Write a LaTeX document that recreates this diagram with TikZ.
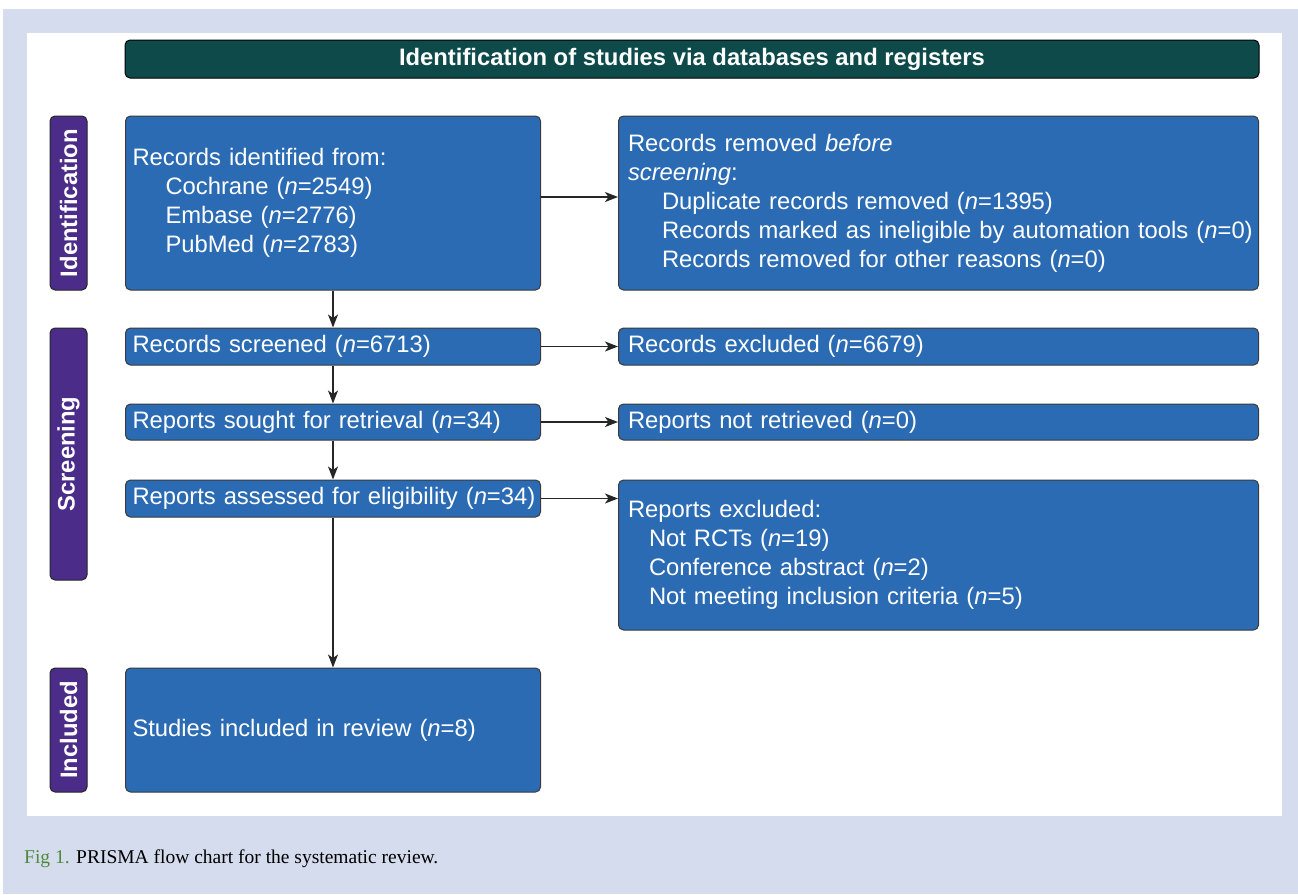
\documentclass[tikz,border=0pt]{standalone}
\usepackage{fontspec}
\setmainfont{Liberation Sans}
\newfontfamily\capfont{Liberation Serif}
\usetikzlibrary{arrows.meta,calc}
\definecolor{bgblue}{HTML}{D4DCEE}
\definecolor{boxblue}{HTML}{2B6BB4}
\definecolor{headteal}{HTML}{0E4A4A}
\definecolor{labpurple}{HTML}{4B2C88}
\definecolor{capgreen}{HTML}{4E8A3A}
\definecolor{edgegray}{HTML}{3A3A3A}
\begin{document}
\begin{tikzpicture}[x=1pt,y=-1pt,
  boxbase/.style={draw=edgegray, line width=1pt, fill=boxblue, text=white,
    rounded corners=5pt, align=left, inner ysep=0pt,
    font=\fontsize{23.8}{29}\selectfont},
  lbox/.style={boxbase, inner xsep=7pt, text width=401pt},
  rbox/.style={boxbase, inner xsep=9.5pt, text width=621pt},
  sidelab/.style={draw=black!85, line width=1pt, fill=labpurple, text=white,
    rounded corners=5pt, rotate=90, inner sep=0pt, minimum height=37pt,
    font=\bfseries\fontsize{23.8}{29}\selectfont},
  arr/.style={draw=black!85, line width=1.3pt,
    -{Stealth[length=13pt,width=10pt,inset=3.5pt]}}
]
\useasboundingbox (0,0) rectangle (1298,894);
\fill[white] (0,0) rectangle (1298,894);
\fill[bgblue] (3,9) rectangle (1298,894);
\fill[white] (27,33) rectangle (1282,816);

% header
\node[draw=black, line width=1pt, fill=headteal, text=white, rounded corners=5pt,
  minimum width=1134pt, minimum height=38pt, inner sep=0pt,
  font=\bfseries\fontsize{23.8}{29}\selectfont] (head) at (692,59)
  {Identification of studies via databases and registers};

% side labels
\node[sidelab, minimum width=174pt] (lid) at (68.5,203) {Identification};
\node[sidelab, minimum width=252pt] (lsc) at (68.5,454) {Screening};
\node[sidelab, minimum width=124pt] (lin) at (68.5,730) {Included};

% left column
\node[lbox, minimum height=174pt] (b1) at (333,203)
  {Records identified from:\\
   \hspace*{33pt}Cochrane (\textit{n}=2549)\\
   \hspace*{33pt}Embase (\textit{n}=2776)\\
   \hspace*{33pt}PubMed (\textit{n}=2783)};
\node[lbox, minimum height=37pt] (scr) at (333,346.5)
  {\mbox{Records screened (\textit{n}=6713)}};
\node[lbox, minimum height=36pt] (sou) at (333,422)
  {\mbox{Reports sought for retrieval (\textit{n}=34)}};
\node[lbox, minimum height=37pt] (ass) at (333,498.5)
  {\mbox{Reports assessed for eligibility (\textit{n}=34)}};
\node[lbox, minimum height=124pt] (inc) at (333,730)
  {\mbox{Studies included in review (\textit{n}=8)}};

% right column
\node[rbox, minimum height=174pt] (b2) at (938.5,203)
  {Records removed \textit{before}\\
   \textit{screening}:\\
   \hspace*{34pt}\mbox{Duplicate records removed (\textit{n}=1395)}\\
   \hspace*{34pt}\mbox{Records marked as ineligible by automation tools (\textit{n}=0)}\\
   \hspace*{34pt}\mbox{Records removed for other reasons (\textit{n}=0)}};
\node[rbox, minimum height=37pt] (exc) at (938.5,346.5)
  {\mbox{Records excluded (\textit{n}=6679)}};
\node[rbox, minimum height=36pt] (nre) at (938.5,422)
  {\mbox{Reports not retrieved (\textit{n}=0)}};
\node[rbox, minimum height=150pt] (rex) at (938.5,555)
  {Reports excluded:\\
   \hspace*{21pt}\mbox{Not RCTs (\textit{n}=19)}\\
   \hspace*{21pt}\mbox{Conference abstract (\textit{n}=2)}\\
   \hspace*{21pt}\mbox{Not meeting inclusion criteria (\textit{n}=5)}};

% connectors
\draw[arr] (b1.south) -- (scr.north);
\draw[arr] (scr.south) -- (sou.north);
\draw[arr] (sou.south) -- (ass.north);
\draw[arr] (ass.south) -- (inc.north);
\draw[arr] ([yshift=6pt]b1.east) -- ([yshift=6pt]b1.east -| b2.west);
\draw[arr] (scr.east) -- (exc.west);
\draw[arr] (sou.east) -- (nre.west);
\draw[arr] (ass.east) -- (ass.east -| rex.west);

% caption
\node[anchor=base west, inner sep=0pt, font=\capfont\fontsize{19.5}{23}\selectfont]
  (cap) at (24,863)
  {\textcolor{capgreen}{Fig 1.} PRISMA flow chart for the systematic review.};
\end{tikzpicture}
\end{document}
